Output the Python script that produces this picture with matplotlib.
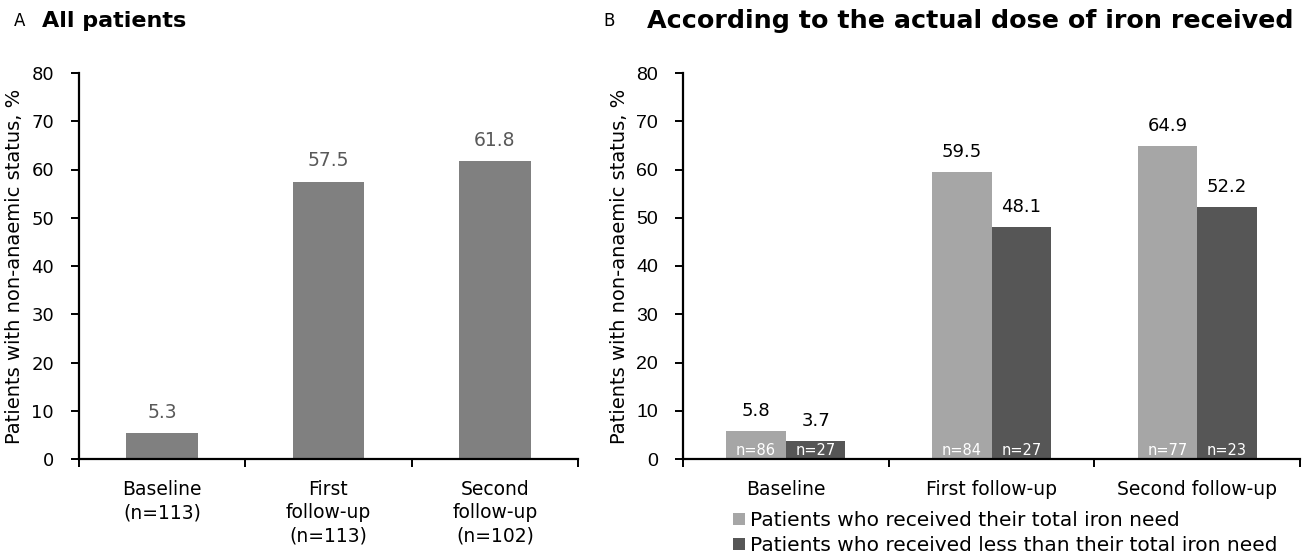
import matplotlib
matplotlib.use("Agg")
import matplotlib.pyplot as plt
import numpy as np

# Panel A data
cats_a = ["Baseline\n(n=113)", "First\nfollow-up\n(n=113)", "Second\nfollow-up\n(n=102)"]
vals_a = [5.3, 57.5, 61.8]

# Panel B data
cats_b = ["Baseline", "First follow-up", "Second follow-up"]
vals_full = [5.8, 59.5, 64.9]
vals_less = [3.7, 48.1, 52.2]
n_full = [86, 84, 77]
n_less = [27, 27, 23]
legend_labels = ["Patients who received their total iron need",
                 "Patients who received less than their total iron need"]

yticks = [0, 10, 20, 30, 40, 50, 60, 70, 80]
ylabel = "Patients with non-anaemic status, %"

W, H = 1306, 560
fig = plt.figure(figsize=(W / 100, H / 100), dpi=100)
plt.rcParams["font.family"] = ["DejaVu Sans"]


def px_axes(left, right, top, bottom):
    return fig.add_axes([left / W, 1 - bottom / H, (right - left) / W, (bottom - top) / H])


def style_axes(ax, tickfont, ticksize):
    for s in ["top", "right"]:
        ax.spines[s].set_visible(False)
    for s in ["left", "bottom"]:
        ax.spines[s].set_linewidth(1.6)
    ax.set_ylim(0, 80)
    ax.set_xlim(-0.5, 2.5)
    ax.set_yticks(yticks)
    ax.tick_params(axis="y", direction="out", length=6, width=1.4, labelsize=ticksize, pad=12)
    for t in ax.get_yticklabels():
        t.set_fontfamily(tickfont)
    ax.set_xticks([-0.5, 0.5, 1.5, 2.5], minor=True)
    ax.tick_params(axis="x", which="minor", direction="out", length=6, width=1.4)
    ax.tick_params(axis="x", which="major", length=0, pad=15)
    ax.set_ylabel(ylabel, fontsize=14, labelpad=5)


# ---- Panel A ----
axA = px_axes(79, 578, 73, 459)
x = np.arange(len(cats_a))
axA.bar(x, vals_a, width=0.43, color="#808080")
style_axes(axA, "DejaVu Sans", 13)
axA.set_xticks(x)
axA.set_xticklabels(cats_a, fontsize=13.5, linespacing=1.3)
for xi, v in zip(x, vals_a):
    axA.annotate(f"{v:.1f}", (xi, v), xytext=(0, 8), textcoords="offset points",
                 ha="center", va="bottom", fontsize=13.5, color="#595959")

# ---- Panel B ----
axB = px_axes(683, 1300, 73, 459)
bw = 0.29
xb = np.arange(len(cats_b))
b1 = axB.bar(xb - bw / 2, vals_full, width=bw, color="#a6a6a6", label=legend_labels[0])
b2 = axB.bar(xb + bw / 2, vals_less, width=bw, color="#565656", label=legend_labels[1])
style_axes(axB, "Liberation Sans", 14)
axB.set_xticks(xb)
axB.set_xticklabels(cats_b, fontsize=13.5)
for xi, v in zip(xb - bw / 2, vals_full):
    axB.annotate(f"{v:.1f}", (xi, v), xytext=(0, 8), textcoords="offset points",
                 ha="center", va="bottom", fontsize=13, color="black")
for xi, v in zip(xb + bw / 2, vals_less):
    axB.annotate(f"{v:.1f}", (xi, v), xytext=(0, 8), textcoords="offset points",
                 ha="center", va="bottom", fontsize=13, color="black")
for xi, n in zip(xb - bw / 2, n_full):
    axB.annotate(f"n={n}", (xi, 0), xytext=(0, 1), textcoords="offset points",
                 ha="center", va="bottom", fontsize=10.5, color="white")
for xi, n in zip(xb + bw / 2, n_less):
    axB.annotate(f"n={n}", (xi, 0), xytext=(0, 1), textcoords="offset points",
                 ha="center", va="bottom", fontsize=10.5, color="white")

fig.legend(handles=[b1, b2], loc="upper left", bbox_to_anchor=(733 / W, 1 - 511 / H),
           frameon=False, fontsize=14.5, handlelength=0.6, handleheight=0.6,
           handletextpad=0.25, labelspacing=0.3, borderaxespad=0, borderpad=0)

# ---- Titles ----
fig.text(14 / W, 1 - 21 / H, "A", fontsize=12, va="center", ha="left")
fig.text(42 / W, 1 - 21 / H, "All patients", fontsize=16, fontweight="bold", va="center", ha="left")
fig.text(603 / W, 1 - 21 / H, "B", fontsize=12, va="center", ha="left")
fig.text(647 / W, 1 - 21 / H, "According to the actual dose of iron received", fontsize=18.3,
         fontweight="bold", va="center", ha="left")

fig.savefig("out.png", dpi=100, facecolor="white")
